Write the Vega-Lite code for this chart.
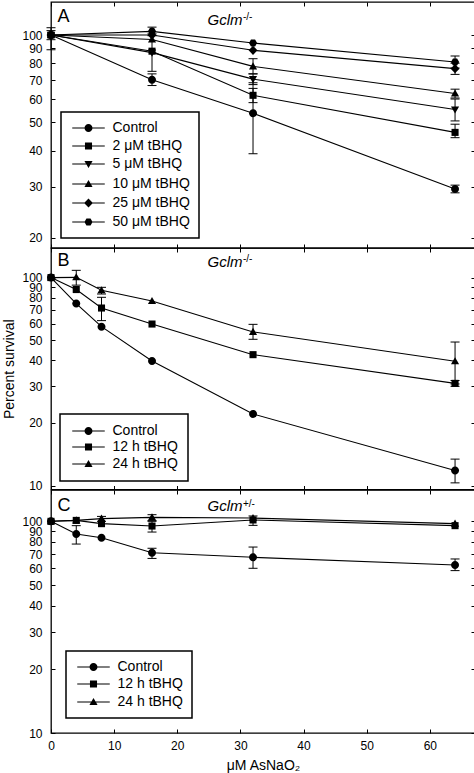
{
  "$schema": "https://vega.github.io/schema/vega-lite/v6.json",
  "background": "white",
  "padding": {"left": 1, "top": 0, "right": 0, "bottom": 0},
  "spacing": 0,
  "bounds": "flush",
  "config": {
    "font": "Liberation Sans",
    "view": {"stroke": "black", "strokeWidth": 1.3},
    "axis": {"domain": false, "grid": false, "ticks": true, "tickColor": "black", "tickSize": -4, "tickWidth": 1, "labelColor": "black", "labelFontSize": 12, "labelFont": "Liberation Sans", "labelFlush": false, "labelOverlap": false, "labelPadding": 13, "titleColor": "black", "titleFont": "Liberation Sans", "titleFontSize": 14, "titleFontWeight": "normal"},
    "axisX": {"labelPadding": 11},
    "legend": {"title": null, "strokeColor": "black", "strokeWidth": 1.5, "fillColor": "white", "cornerRadius": 0, "labelFont": "Liberation Sans", "labelFontSize": 14, "labelColor": "black", "symbolSize": 50, "symbolOffset": 11.5, "labelOffset": 17, "orient": "bottom-left"}
  },
  "datasets": {
    "A": [
      {"series": "Control", "x": 0, "y": 100, "lo": 89, "hi": 106},
      {"series": "Control", "x": 16, "y": 70.2, "lo": 67, "hi": 73.5},
      {"series": "Control", "x": 32, "y": 53.8, "lo": 39, "hi": 68.5},
      {"series": "Control", "x": 64, "y": 29.5, "lo": 28.6, "hi": 30.4},
      {"series": "2 μM tBHQ", "x": 0, "y": 100, "lo": 96.4, "hi": 103.6},
      {"series": "2 μM tBHQ", "x": 16, "y": 88, "lo": 75, "hi": 101},
      {"series": "2 μM tBHQ", "x": 32, "y": 62, "lo": 58.5, "hi": 65.5},
      {"series": "2 μM tBHQ", "x": 64, "y": 46.2, "lo": 44.3, "hi": 49.3},
      {"series": "5 μM tBHQ", "x": 0, "y": 100},
      {"series": "5 μM tBHQ", "x": 16, "y": 87},
      {"series": "5 μM tBHQ", "x": 32, "y": 70.5, "lo": 67.5, "hi": 73.5},
      {"series": "5 μM tBHQ", "x": 64, "y": 55.4, "lo": 50.6, "hi": 60.2},
      {"series": "10 μM tBHQ", "x": 0, "y": 100},
      {"series": "10 μM tBHQ", "x": 16, "y": 96.5},
      {"series": "10 μM tBHQ", "x": 32, "y": 78, "lo": 73.5, "hi": 82.9},
      {"series": "10 μM tBHQ", "x": 64, "y": 62.9, "lo": 60.7, "hi": 65.1},
      {"series": "25 μM tBHQ", "x": 0, "y": 100},
      {"series": "25 μM tBHQ", "x": 16, "y": 100},
      {"series": "25 μM tBHQ", "x": 32, "y": 88.6},
      {"series": "25 μM tBHQ", "x": 64, "y": 76.6, "lo": 73.2, "hi": 80},
      {"series": "50 μM tBHQ", "x": 0, "y": 100},
      {"series": "50 μM tBHQ", "x": 16, "y": 103, "lo": 99.5, "hi": 106.5},
      {"series": "50 μM tBHQ", "x": 32, "y": 93.9},
      {"series": "50 μM tBHQ", "x": 64, "y": 80.8, "lo": 77, "hi": 84.7}
    ],
    "B": [
      {"series": "Control", "x": 0, "y": 100},
      {"series": "Control", "x": 4, "y": 75},
      {"series": "Control", "x": 8, "y": 58.1},
      {"series": "Control", "x": 16, "y": 39.7},
      {"series": "Control", "x": 32, "y": 22.1},
      {"series": "Control", "x": 64, "y": 11.8, "lo": 10.3, "hi": 13.4},
      {"series": "12 h tBHQ", "x": 0, "y": 100},
      {"series": "12 h tBHQ", "x": 4, "y": 87.6},
      {"series": "12 h tBHQ", "x": 8, "y": 71.4, "lo": 62.1, "hi": 80.4},
      {"series": "12 h tBHQ", "x": 16, "y": 59.8},
      {"series": "12 h tBHQ", "x": 32, "y": 42.6},
      {"series": "12 h tBHQ", "x": 64, "y": 31, "lo": 30, "hi": 32},
      {"series": "24 h tBHQ", "x": 0, "y": 100},
      {"series": "24 h tBHQ", "x": 4, "y": 100.3, "lo": 92, "hi": 108.4},
      {"series": "24 h tBHQ", "x": 8, "y": 86.9, "lo": 83.4, "hi": 89.8},
      {"series": "24 h tBHQ", "x": 16, "y": 77.2},
      {"series": "24 h tBHQ", "x": 32, "y": 54.8, "lo": 50.5, "hi": 59.6},
      {"series": "24 h tBHQ", "x": 64, "y": 39.6, "lo": 30.8, "hi": 49}
    ],
    "C": [
      {"series": "Control", "x": 0, "y": 100},
      {"series": "Control", "x": 4, "y": 87.1, "lo": 78.1, "hi": 95.4},
      {"series": "Control", "x": 8, "y": 83.7},
      {"series": "Control", "x": 16, "y": 71.1, "lo": 66.8, "hi": 74.6},
      {"series": "Control", "x": 32, "y": 67.6, "lo": 60, "hi": 75.6},
      {"series": "Control", "x": 64, "y": 62.2, "lo": 58.5, "hi": 66.4},
      {"series": "12 h tBHQ", "x": 0, "y": 100},
      {"series": "12 h tBHQ", "x": 4, "y": 101},
      {"series": "12 h tBHQ", "x": 8, "y": 97.5},
      {"series": "12 h tBHQ", "x": 16, "y": 95, "lo": 89, "hi": 100},
      {"series": "12 h tBHQ", "x": 32, "y": 101.5, "lo": 95.7, "hi": 106},
      {"series": "12 h tBHQ", "x": 64, "y": 95.4},
      {"series": "24 h tBHQ", "x": 0, "y": 100},
      {"series": "24 h tBHQ", "x": 4, "y": 101},
      {"series": "24 h tBHQ", "x": 8, "y": 103, "lo": 100, "hi": 105.5},
      {"series": "24 h tBHQ", "x": 16, "y": 104.4, "lo": 100.8, "hi": 107.5},
      {"series": "24 h tBHQ", "x": 32, "y": 103.6},
      {"series": "24 h tBHQ", "x": 64, "y": 97.5}
    ]
  },
  "vconcat": [
    {
      "width": 424, "height": 246,
      "data": {"name": "A"},
      "resolve": {"scale": {"shape": "independent"}, "axis": {"x": "independent", "y": "independent"}},
      "layer": [
        {"mark": {"type": "line", "color": "black", "strokeWidth": 1.1},
         "encoding": {
           "x": {"field": "x", "type": "quantitative", "scale": {"domain": [0, 67.16], "nice": false, "zero": false}, "axis": {"orient": "bottom", "values": [0, 10, 20, 30, 40, 50, 60], "labels": false, "title": null}},
           "y": {"field": "y", "type": "quantitative", "scale": {"type": "log", "domain": [18.46, 130], "nice": false}, "axis": {"orient": "left", "values": [20, 30, 40, 50, 60, 70, 80, 90, 100], "title": null}},
           "detail": {"field": "series"}}},
        {"transform": [{"filter": "isValid(datum.lo)"}],
         "mark": {"type": "rule", "color": "black", "strokeWidth": 1},
         "encoding": {
           "x": {"field": "x", "type": "quantitative", "scale": {"domain": [0, 67.16], "nice": false, "zero": false}, "axis": {"orient": "top", "values": [0, 10, 20, 30, 40, 50, 60], "labels": false, "title": null}},
           "y": {"field": "lo", "type": "quantitative", "scale": {"type": "log", "domain": [18.46, 130], "nice": false}, "axis": {"orient": "right", "values": [20, 30, 40, 50, 60, 70, 80, 90, 100], "labels": false, "title": null}},
           "y2": {"field": "hi"}}},
        {"transform": [{"filter": "isValid(datum.lo)"}],
         "mark": {"type": "tick", "orient": "horizontal", "size": 9, "thickness": 1, "color": "black", "opacity": 1},
         "encoding": {
           "x": {"field": "x", "type": "quantitative", "axis": null},
           "y": {"field": "lo", "type": "quantitative", "axis": null}}},
        {"transform": [{"filter": "isValid(datum.hi)"}],
         "mark": {"type": "tick", "orient": "horizontal", "size": 9, "thickness": 1, "color": "black", "opacity": 1},
         "encoding": {
           "x": {"field": "x", "type": "quantitative", "axis": null},
           "y": {"field": "hi", "type": "quantitative", "axis": null}}},
        {"mark": {"type": "point", "filled": true, "opacity": 1, "size": 50, "color": "black"},
         "encoding": {
           "x": {"field": "x", "type": "quantitative", "axis": null},
           "y": {"field": "y", "type": "quantitative", "axis": null},
           "shape": {"field": "series", "type": "nominal", "legend": null,
             "scale": {"domain": ["Control", "2 μM tBHQ", "5 μM tBHQ", "10 μM tBHQ", "25 μM tBHQ", "50 μM tBHQ"],
               "range": ["M-1.128,0A1.128,1.128,0,1,1,1.128,0A1.128,1.128,0,1,1,-1.128,0Z", "M-1,-1H1V1H-1Z", "M-1.15,-0.85H1.15L0,1.15Z", "M-1.15,0.85L0,-1.15L1.15,0.85Z", "M0,-1.3L1.25,0L0,1.3L-1.25,0Z", "M-1.15,0L-0.58,-1L0.58,-1L1.15,0L0.58,1L-0.58,1Z"]}}}},
        {"transform": [{"filter": "datum.x < 0"}],
         "mark": {"type": "point", "filled": true, "opacity": 1, "size": 50, "color": "black"},
         "encoding": {
           "x": {"field": "x", "type": "quantitative", "axis": null},
           "y": {"field": "y", "type": "quantitative", "axis": null},
           "shape": {"field": "series", "type": "nominal",
             "legend": {"orient": "bottom-left", "offset": 10, "padding": 9, "rowPadding": 4},
             "scale": {"domain": ["Control", "2 μM tBHQ", "5 μM tBHQ", "10 μM tBHQ", "25 μM tBHQ", "50 μM tBHQ"],
               "range": ["M-4.6,-0.17H4.6V0.17H-4.6ZM-1.128,0A1.128,1.128,0,1,1,1.128,0A1.128,1.128,0,1,1,-1.128,0Z", "M-4.6,-0.17H4.6V0.17H-4.6ZM-1,-1H1V1H-1Z", "M-4.6,-0.17H4.6V0.17H-4.6ZM-1.15,-0.85H1.15L0,1.15Z", "M-4.6,-0.17H4.6V0.17H-4.6ZM-1.15,0.85L0,-1.15L1.15,0.85Z", "M-4.6,-0.17H4.6V0.17H-4.6ZM0,-1.3L1.25,0L0,1.3L-1.25,0Z", "M-4.6,-0.17H4.6V0.17H-4.6ZM-1.15,0L-0.58,-1L0.58,-1L1.15,0L0.58,1L-0.58,1Z"]}}}},
        {"data": {"values": [{}]},
         "mark": {"type": "text", "text": "A", "align": "left", "baseline": "alphabetic", "fontSize": 18, "font": "Liberation Sans", "color": "black"},
         "encoding": {"x": {"datum": 1.03, "type": "quantitative", "axis": null}, "y": {"datum": 110.8, "type": "quantitative", "axis": null}}},
        {"data": {"values": [{}]},
         "mark": {"type": "text", "text": "Gclm", "align": "right", "baseline": "alphabetic", "fontSize": 15, "fontStyle": "italic", "font": "Liberation Sans", "color": "black"},
         "encoding": {"x": {"datum": 30.33, "type": "quantitative", "axis": null}, "y": {"datum": 108.5, "type": "quantitative", "axis": null}}},
        {"data": {"values": [{}]},
         "mark": {"type": "text", "text": "-/-", "align": "left", "baseline": "alphabetic", "fontSize": 10, "font": "Liberation Sans", "color": "black"},
         "encoding": {"x": {"datum": 30.4, "type": "quantitative", "axis": null}, "y": {"datum": 112.6, "type": "quantitative", "axis": null}}}
      ]
    },
    {
      "width": 424, "height": 241.5,
      "data": {"name": "B"},
      "resolve": {"scale": {"shape": "independent"}, "axis": {"x": "independent", "y": "independent"}},
      "layer": [
        {"mark": {"type": "line", "color": "black", "strokeWidth": 1.1},
         "encoding": {
           "x": {"field": "x", "type": "quantitative", "scale": {"domain": [0, 67.16], "nice": false, "zero": false}, "axis": {"orient": "bottom", "values": [0, 10, 20, 30, 40, 50, 60], "labels": false, "title": null}},
           "y": {"field": "y", "type": "quantitative", "scale": {"type": "log", "domain": [9.57, 138.8], "nice": false}, "axis": {"orient": "left", "values": [10, 20, 30, 40, 50, 60, 70, 80, 90, 100], "title": "Percent survival", "titlePadding": 5.5}},
           "detail": {"field": "series"}}},
        {"transform": [{"filter": "isValid(datum.lo)"}],
         "mark": {"type": "rule", "color": "black", "strokeWidth": 1},
         "encoding": {
           "x": {"field": "x", "type": "quantitative", "scale": {"domain": [0, 67.16], "nice": false, "zero": false}, "axis": {"orient": "top", "values": [0, 10, 20, 30, 40, 50, 60], "labels": false, "title": null}},
           "y": {"field": "lo", "type": "quantitative", "scale": {"type": "log", "domain": [9.57, 138.8], "nice": false}, "axis": {"orient": "right", "values": [10, 20, 30, 40, 50, 60, 70, 80, 90, 100], "labels": false, "title": null}},
           "y2": {"field": "hi"}}},
        {"transform": [{"filter": "isValid(datum.lo)"}],
         "mark": {"type": "tick", "orient": "horizontal", "size": 9, "thickness": 1, "color": "black", "opacity": 1},
         "encoding": {
           "x": {"field": "x", "type": "quantitative", "axis": null},
           "y": {"field": "lo", "type": "quantitative", "axis": null}}},
        {"transform": [{"filter": "isValid(datum.hi)"}],
         "mark": {"type": "tick", "orient": "horizontal", "size": 9, "thickness": 1, "color": "black", "opacity": 1},
         "encoding": {
           "x": {"field": "x", "type": "quantitative", "axis": null},
           "y": {"field": "hi", "type": "quantitative", "axis": null}}},
        {"mark": {"type": "point", "filled": true, "opacity": 1, "size": 50, "color": "black"},
         "encoding": {
           "x": {"field": "x", "type": "quantitative", "axis": null},
           "y": {"field": "y", "type": "quantitative", "axis": null},
           "shape": {"field": "series", "type": "nominal", "legend": null,
             "scale": {"domain": ["Control", "12 h tBHQ", "24 h tBHQ"],
               "range": ["M-1.128,0A1.128,1.128,0,1,1,1.128,0A1.128,1.128,0,1,1,-1.128,0Z", "M-1,-1H1V1H-1Z", "M-1.15,0.85L0,-1.15L1.15,0.85Z"]}}}},
        {"transform": [{"filter": "datum.x < 0"}],
         "mark": {"type": "point", "filled": true, "opacity": 1, "size": 50, "color": "black"},
         "encoding": {
           "x": {"field": "x", "type": "quantitative", "axis": null},
           "y": {"field": "y", "type": "quantitative", "axis": null},
           "shape": {"field": "series", "type": "nominal",
             "legend": {"orient": "bottom-left", "offset": 9, "padding": 10, "rowPadding": 2},
             "scale": {"domain": ["Control", "12 h tBHQ", "24 h tBHQ"],
               "range": ["M-4.6,-0.17H4.6V0.17H-4.6ZM-1.128,0A1.128,1.128,0,1,1,1.128,0A1.128,1.128,0,1,1,-1.128,0Z", "M-4.6,-0.17H4.6V0.17H-4.6ZM-1,-1H1V1H-1Z", "M-4.6,-0.17H4.6V0.17H-4.6ZM-1.15,0.85L0,-1.15L1.15,0.85Z"]}}}},
        {"data": {"values": [{}]},
         "mark": {"type": "text", "text": "B", "align": "left", "baseline": "alphabetic", "fontSize": 18, "font": "Liberation Sans", "color": "black"},
         "encoding": {"x": {"datum": 1.03, "type": "quantitative", "axis": null}, "y": {"datum": 113.3, "type": "quantitative", "axis": null}}},
        {"data": {"values": [{}]},
         "mark": {"type": "text", "text": "Gclm", "align": "right", "baseline": "alphabetic", "fontSize": 15, "fontStyle": "italic", "font": "Liberation Sans", "color": "black"},
         "encoding": {"x": {"datum": 30.33, "type": "quantitative", "axis": null}, "y": {"datum": 112.5, "type": "quantitative", "axis": null}}},
        {"data": {"values": [{}]},
         "mark": {"type": "text", "text": "-/-", "align": "left", "baseline": "alphabetic", "fontSize": 10, "font": "Liberation Sans", "color": "black"},
         "encoding": {"x": {"datum": 30.4, "type": "quantitative", "axis": null}, "y": {"datum": 118.4, "type": "quantitative", "axis": null}}}
      ]
    },
    {
      "width": 424, "height": 243,
      "data": {"name": "C"},
      "resolve": {"scale": {"shape": "independent"}, "axis": {"x": "independent", "y": "independent"}},
      "layer": [
        {"mark": {"type": "line", "color": "black", "strokeWidth": 1.1},
         "encoding": {
           "x": {"field": "x", "type": "quantitative", "scale": {"domain": [0, 67.16], "nice": false, "zero": false}, "axis": {"orient": "bottom", "values": [0, 10, 20, 30, 40, 50, 60], "title": "μM AsNaO₂", "titlePadding": 7}},
           "y": {"field": "y", "type": "quantitative", "scale": {"type": "log", "domain": [10, 140.6], "nice": false}, "axis": {"orient": "left", "values": [10, 20, 30, 40, 50, 60, 70, 80, 90, 100], "title": null}},
           "detail": {"field": "series"}}},
        {"transform": [{"filter": "isValid(datum.lo)"}],
         "mark": {"type": "rule", "color": "black", "strokeWidth": 1},
         "encoding": {
           "x": {"field": "x", "type": "quantitative", "scale": {"domain": [0, 67.16], "nice": false, "zero": false}, "axis": {"orient": "top", "values": [0, 10, 20, 30, 40, 50, 60], "labels": false, "title": null}},
           "y": {"field": "lo", "type": "quantitative", "scale": {"type": "log", "domain": [10, 140.6], "nice": false}, "axis": {"orient": "right", "values": [10, 20, 30, 40, 50, 60, 70, 80, 90, 100], "labels": false, "title": null}},
           "y2": {"field": "hi"}}},
        {"transform": [{"filter": "isValid(datum.lo)"}],
         "mark": {"type": "tick", "orient": "horizontal", "size": 9, "thickness": 1, "color": "black", "opacity": 1},
         "encoding": {
           "x": {"field": "x", "type": "quantitative", "axis": null},
           "y": {"field": "lo", "type": "quantitative", "axis": null}}},
        {"transform": [{"filter": "isValid(datum.hi)"}],
         "mark": {"type": "tick", "orient": "horizontal", "size": 9, "thickness": 1, "color": "black", "opacity": 1},
         "encoding": {
           "x": {"field": "x", "type": "quantitative", "axis": null},
           "y": {"field": "hi", "type": "quantitative", "axis": null}}},
        {"mark": {"type": "point", "filled": true, "opacity": 1, "size": 50, "color": "black"},
         "encoding": {
           "x": {"field": "x", "type": "quantitative", "axis": null},
           "y": {"field": "y", "type": "quantitative", "axis": null},
           "shape": {"field": "series", "type": "nominal", "legend": null,
             "scale": {"domain": ["Control", "12 h tBHQ", "24 h tBHQ"],
               "range": ["M-1.128,0A1.128,1.128,0,1,1,1.128,0A1.128,1.128,0,1,1,-1.128,0Z", "M-1,-1H1V1H-1Z", "M-1.15,0.85L0,-1.15L1.15,0.85Z"]}}}},
        {"transform": [{"filter": "datum.x < 0"}],
         "mark": {"type": "point", "filled": true, "opacity": 1, "size": 50, "color": "black"},
         "encoding": {
           "x": {"field": "x", "type": "quantitative", "axis": null},
           "y": {"field": "y", "type": "quantitative", "axis": null},
           "shape": {"field": "series", "type": "nominal",
             "legend": {"orient": "bottom-left", "offset": 15, "padding": 9, "rowPadding": 3},
             "scale": {"domain": ["Control", "12 h tBHQ", "24 h tBHQ"],
               "range": ["M-4.6,-0.17H4.6V0.17H-4.6ZM-1.128,0A1.128,1.128,0,1,1,1.128,0A1.128,1.128,0,1,1,-1.128,0Z", "M-4.6,-0.17H4.6V0.17H-4.6ZM-1,-1H1V1H-1Z", "M-4.6,-0.17H4.6V0.17H-4.6ZM-1.15,0.85L0,-1.15L1.15,0.85Z"]}}}},
        {"data": {"values": [{}]},
         "mark": {"type": "text", "text": "C", "align": "left", "baseline": "alphabetic", "fontSize": 18, "font": "Liberation Sans", "color": "black"},
         "encoding": {"x": {"datum": 1.03, "type": "quantitative", "axis": null}, "y": {"datum": 111.5, "type": "quantitative", "axis": null}}},
        {"data": {"values": [{}]},
         "mark": {"type": "text", "text": "Gclm", "align": "right", "baseline": "alphabetic", "fontSize": 15, "fontStyle": "italic", "font": "Liberation Sans", "color": "black"},
         "encoding": {"x": {"datum": 30.33, "type": "quantitative", "axis": null}, "y": {"datum": 111.5, "type": "quantitative", "axis": null}}},
        {"data": {"values": [{}]},
         "mark": {"type": "text", "text": "+/-", "align": "left", "baseline": "alphabetic", "fontSize": 10, "font": "Liberation Sans", "color": "black"},
         "encoding": {"x": {"datum": 30.4, "type": "quantitative", "axis": null}, "y": {"datum": 117.1, "type": "quantitative", "axis": null}}}
      ]
    }
  ]
}
